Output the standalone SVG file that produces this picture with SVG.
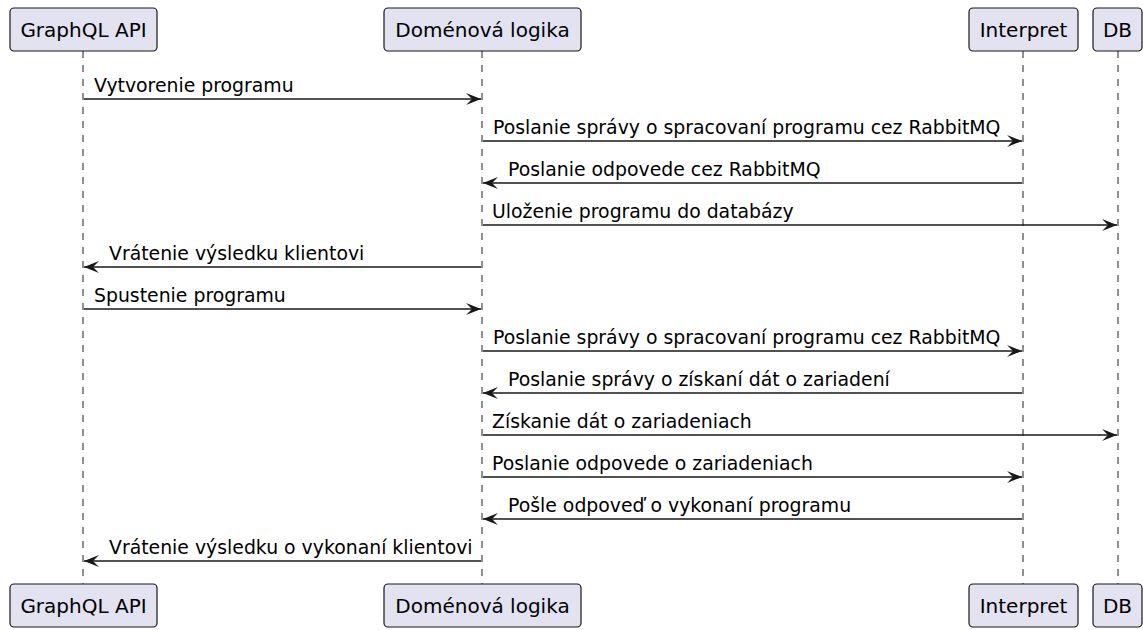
<svg xmlns="http://www.w3.org/2000/svg" width="1143" height="630" viewBox="0 0 1143 630">
<defs>
<style>
.box{fill:#E2E2F0;stroke:#181818;stroke-width:1.2}
.pt{font-family:"DejaVu Sans",sans-serif;font-size:20px;fill:#000;text-anchor:middle}
.life{stroke:#555;stroke-width:1.3;stroke-dasharray:7,7;fill:none}
.msg{stroke:#181818;stroke-width:1.5;fill:none}
.mt{font-family:"DejaVu Sans",sans-serif;font-size:18.85px;fill:#000}
</style>
<marker id="ah" viewBox="0 0 15 12" refX="15" refY="6" markerWidth="15" markerHeight="12" markerUnits="userSpaceOnUse" orient="auto">
<polygon points="0,0 15,6 0,12 6,6" fill="#181818"/>
</marker>
</defs>
<rect width="1143" height="630" fill="#fff"/>
<g id="lifelines">
<line class="life" x1="83" y1="51" x2="83" y2="584"/>
<line class="life" x1="482" y1="51" x2="482" y2="584"/>
<line class="life" x1="1023" y1="51" x2="1023" y2="584"/>
<line class="life" x1="1118" y1="51" x2="1118" y2="584"/>
</g>
<g id="graphql">
<rect class="box" x="10" y="8" width="147" height="43" rx="4"/>
<text class="pt" x="83.5" y="37">GraphQL API</text>
<rect class="box" x="10" y="584" width="147" height="43" rx="4"/>
<text class="pt" x="83.5" y="613">GraphQL API</text>
</g>
<g id="domena">
<rect class="box" x="384" y="8" width="197" height="43" rx="4"/>
<text class="pt" x="482.5" y="37">Doménová logika</text>
<rect class="box" x="384" y="584" width="197" height="43" rx="4"/>
<text class="pt" x="482.5" y="613">Doménová logika</text>
</g>
<g id="interpret">
<rect class="box" x="969" y="8" width="109" height="43" rx="4"/>
<text class="pt" x="1023.5" y="37">Interpret</text>
<rect class="box" x="969" y="584" width="109" height="43" rx="4"/>
<text class="pt" x="1023.5" y="613">Interpret</text>
</g>
<g id="db">
<rect class="box" x="1093" y="8" width="49" height="43" rx="4"/>
<text class="pt" x="1117.5" y="37">DB</text>
<rect class="box" x="1093" y="584" width="49" height="43" rx="4"/>
<text class="pt" x="1117.5" y="613">DB</text>
</g>
<g id="connectors">
<line class="msg" x1="84" y1="99" x2="481" y2="99" marker-end="url(#ah)"/>
<text class="mt" x="94" y="92">Vytvorenie programu</text>
<line class="msg" x1="483" y1="141" x2="1022" y2="141" marker-end="url(#ah)"/>
<text class="mt" x="493" y="134">Poslanie správy o spracovaní programu cez RabbitMQ</text>
<line class="msg" x1="1022" y1="183" x2="483" y2="183" marker-end="url(#ah)"/>
<text class="mt" x="508" y="176">Poslanie odpovede cez RabbitMQ</text>
<line class="msg" x1="483" y1="225" x2="1117" y2="225" marker-end="url(#ah)"/>
<text class="mt" x="492" y="218">Uloženie programu do databázy</text>
<line class="msg" x1="481" y1="267" x2="84" y2="267" marker-end="url(#ah)"/>
<text class="mt" x="109" y="260">Vrátenie výsledku klientovi</text>
<line class="msg" x1="84" y1="309" x2="481" y2="309" marker-end="url(#ah)"/>
<text class="mt" x="94" y="302">Spustenie programu</text>
<line class="msg" x1="483" y1="351" x2="1022" y2="351" marker-end="url(#ah)"/>
<text class="mt" x="493" y="344">Poslanie správy o spracovaní programu cez RabbitMQ</text>
<line class="msg" x1="1022" y1="393" x2="483" y2="393" marker-end="url(#ah)"/>
<text class="mt" x="508" y="386">Poslanie správy o získaní dát o zariadení</text>
<line class="msg" x1="483" y1="435" x2="1117" y2="435" marker-end="url(#ah)"/>
<text class="mt" x="492" y="428">Získanie dát o zariadeniach</text>
<line class="msg" x1="483" y1="477" x2="1022" y2="477" marker-end="url(#ah)"/>
<text class="mt" x="492" y="470">Poslanie odpovede o zariadeniach</text>
<line class="msg" x1="1022" y1="519" x2="483" y2="519" marker-end="url(#ah)"/>
<text class="mt" x="508" y="512">Pošle odpoveď o vykonaní programu</text>
<line class="msg" x1="481" y1="561" x2="84" y2="561" marker-end="url(#ah)"/>
<text class="mt" x="109" y="554">Vrátenie výsledku o vykonaní klientovi</text>
</g>
</svg>
